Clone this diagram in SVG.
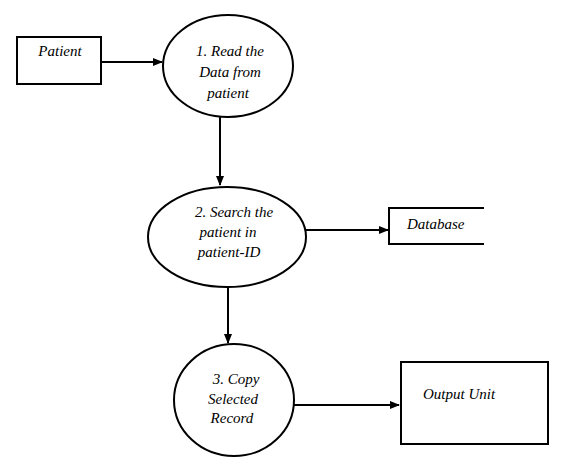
<svg xmlns="http://www.w3.org/2000/svg" width="563" height="465" viewBox="0 0 563 465">
<style>
.s{fill:none;stroke:#000;stroke-width:2}
text{font-family:'Liberation Serif','DejaVu Serif',serif;font-style:italic;font-size:15px;fill:#000}
.c{text-anchor:middle}
.l{fill:none;stroke:#000;stroke-width:2}
</style>
<defs>
<marker id="a" markerWidth="10" markerHeight="8" refX="9" refY="4" orient="auto" markerUnits="userSpaceOnUse">
<path d="M0,0 L10,4 L0,8 Z" fill="#000"/>
</marker>
</defs>
<rect width="563" height="465" fill="#fff"/>
<g id="patient">
<rect class="s" x="17" y="37" width="84" height="47"/>
<text class="c" x="60" y="56">Patient</text>
</g>
<g id="p1">
<ellipse class="s" cx="228" cy="66" rx="65" ry="51"/>
<text class="c" x="230" y="56">1. Read the</text>
<text class="c" x="230" y="77">Data from</text>
<text class="c" x="228" y="98">patient</text>
</g>
<g id="p2">
<ellipse class="s" cx="227" cy="237" rx="79" ry="50"/>
<text class="c" x="234" y="217">2. Search the</text>
<text class="c" x="228" y="237">patient in</text>
<text class="c" x="229" y="257">patient-ID</text>
</g>
<g id="database">
<path class="s" d="M484,208 H389 V244 H484"/>
<text x="407" y="229">Database</text>
</g>
<g id="p3">
<ellipse class="s" cx="234" cy="400" rx="60" ry="56"/>
<text class="c" x="236" y="384">3. Copy</text>
<text class="c" x="233" y="404">Selected</text>
<text class="c" x="232" y="423">Record</text>
</g>
<g id="output">
<rect class="s" x="401" y="362" width="147" height="82"/>
<text x="423" y="399">Output Unit</text>
</g>
<g id="connectors">
<line class="l" x1="101" y1="62" x2="162" y2="62" marker-end="url(#a)"/>
<line class="l" x1="220" y1="117" x2="220" y2="185" marker-end="url(#a)"/>
<line class="l" x1="306" y1="230" x2="388" y2="230" marker-end="url(#a)"/>
<line class="l" x1="228" y1="287" x2="228" y2="343" marker-end="url(#a)"/>
<line class="l" x1="294" y1="405" x2="399" y2="405" marker-end="url(#a)"/>
</g>
</svg>
